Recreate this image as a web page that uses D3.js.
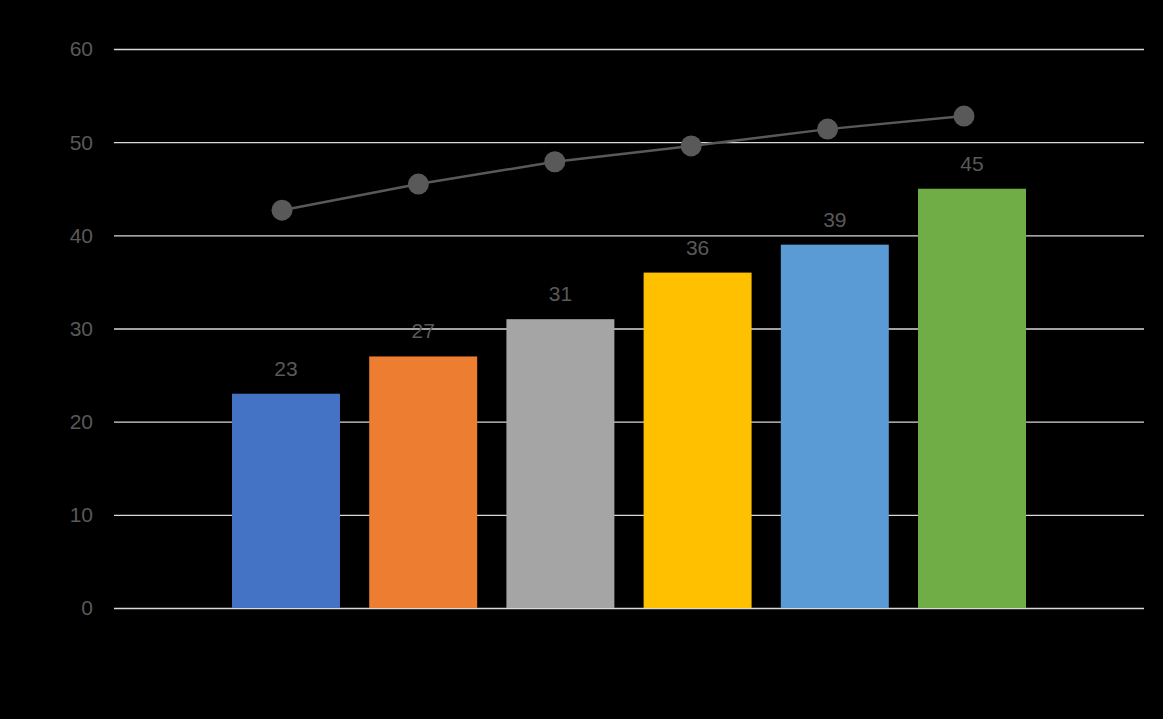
<!DOCTYPE html>
<meta charset="utf-8">
<style>
body {
  margin: 0;
  background: #000;
}
svg text {
  font-family: "Liberation Sans", "Noto Sans", sans-serif;
  fill: #595959;
}
.grid line {
  stroke: #d9d9d9;
  stroke-width: 1.3px;
}
.grid path { display: none; }
.line {
  fill: none;
  stroke: #595959;
  stroke-width: 2.5px;
}
</style>
<body>
<script src="https://cdn.jsdelivr.net/npm/d3@7"></script>
<script>

// chart data
var categories = ["A", "B", "C", "D", "E", "F"];
var barValues = [23, 27, 31, 36, 39, 45];
var barColors = ["#4472C4", "#ED7D31", "#A5A5A5", "#FFC000", "#5B9BD5", "#70AD47"];
var lineValues = [42.7, 45.5, 47.9, 49.6, 51.4, 52.8];
var yTicks = [0, 10, 20, 30, 40, 50, 60];

var W = 1163, H = 719;
var margin = {top: 49, right: 19, bottom: 111, left: 114},
    width = W - margin.left - margin.right,
    height = H - margin.top - margin.bottom;

var svg = d3.select("body")
  .append("svg")
    .attr("width", W)
    .attr("height", H)
    .style("background", "#000")
  .append("g")
    .attr("transform", "translate(" + margin.left + "," + margin.top + ")");

var x = d3.scaleBand()
    .domain(categories)
    .range([0, width])
    .paddingInner(0.213)
    .paddingOuter(0.86);

var y = d3.scaleLinear().domain([0, 60]).range([height, 0]);

// line uses its own (hidden) category positions
var xLine = d3.scalePoint()
    .domain(categories)
    .range([282 - margin.left, 964 - margin.left]);

// gridlines
svg.append("g")
    .attr("class", "grid")
    .call(d3.axisLeft(y).tickValues(yTicks).tickSize(-width).tickFormat(""));

// tick labels
svg.append("g")
  .selectAll("text")
  .data(yTicks)
  .join("text")
    .attr("x", -21)
    .attr("y", function(d) { return y(d); })
    .attr("dy", "0.35em")
    .attr("text-anchor", "end")
    .style("font-size", "21px")
    .text(function(d) { return d; });

// bars
svg.append("g")
  .selectAll("rect")
  .data(barValues)
  .join("rect")
    .attr("x", function(d, i) { return x(categories[i]); })
    .attr("y", function(d) { return y(d); })
    .attr("width", x.bandwidth())
    .attr("height", function(d) { return height - y(d); })
    .attr("fill", function(d, i) { return barColors[i]; });

// bar labels
svg.append("g")
  .selectAll("text")
  .data(barValues)
  .join("text")
    .attr("x", function(d, i) { return x(categories[i]) + x.bandwidth() / 2; })
    .attr("y", function(d) { return y(d) - 18; })
    .attr("text-anchor", "middle")
    .style("font-size", "21px")
    .text(function(d) { return d; });

// line + markers
var line = d3.line()
    .x(function(d, i) { return xLine(categories[i]); })
    .y(function(d) { return y(d); });

svg.append("path")
    .datum(lineValues)
    .attr("class", "line")
    .attr("d", line);

svg.append("g")
  .selectAll("circle")
  .data(lineValues)
  .join("circle")
    .attr("cx", function(d, i) { return xLine(categories[i]); })
    .attr("cy", function(d) { return y(d); })
    .attr("r", 10.5)
    .attr("fill", "#595959");

</script>
</body>
